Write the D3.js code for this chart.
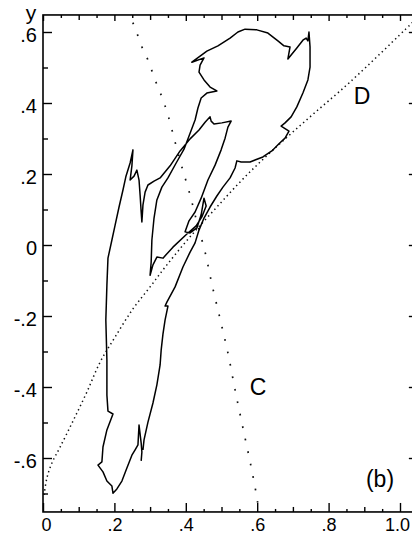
<!DOCTYPE html>
<html><head><meta charset="utf-8">
<script src="https://cdn.jsdelivr.net/npm/d3@7/dist/d3.min.js"></script>
<style>
html,body{margin:0;padding:0;background:#fff;}
svg{display:block;font-family:"Liberation Sans",Arial,Helvetica,sans-serif;}
</style>
</head><body>
<svg id="chart" width="412" height="535"></svg>
<script>
// ---- data ----
const xMajorTicks = [0, 0.2, 0.4, 0.6, 0.8, 1.0];
const xTickLabels = ["0", ".2", ".4", ".6", ".8", "1.0"];
const xMinorTicks = [0.1, 0.3, 0.5, 0.7, 0.9];
const xFineTicks = [0.05, 0.15, 0.25, 0.35, 0.45, 0.55, 0.65, 0.75, 0.85, 0.95];
const yMajorTicks = [-0.6, -0.4, -0.2, 0, 0.2, 0.4, 0.6];
const yTickLabels = ["-.6", "-.4", "-.2", "0", ".2", ".4", ".6"];
const yMinorTicks = [-0.7, -0.5, -0.3, -0.1, 0.1, 0.3, 0.5];

// dotted curve D (x, y)
const curveD = [[0.003,-0.704],[0.011,-0.656],[0.025,-0.614],[0.048,-0.569],[0.084,-0.496],
  [0.123,-0.414],[0.160,-0.330],[0.202,-0.259],[0.252,-0.180],[0.300,-0.118],[0.347,-0.056],
  [0.412,0.023],[0.487,0.107],[0.566,0.192],[0.650,0.273],[0.748,0.361],[0.860,0.459],[1.028,0.620],[1.040,0.632]];
// dotted curve C (x, y)
const curveC = [[0.240,0.660],[0.244,0.645],[0.258,0.611],[0.277,0.558],[0.294,0.521],[0.314,0.465],
  [0.333,0.417],[0.350,0.366],[0.370,0.290],[0.389,0.220],[0.412,0.141],[0.431,0.065],
  [0.454,-0.020],[0.473,-0.110],[0.496,-0.208],[0.518,-0.304],[0.538,-0.408],[0.560,-0.515],
  [0.583,-0.625],[0.597,-0.699],[0.605,-0.749],[0.607,-0.760]];

// solid trajectory (x, y)
const trajectory = [
  [0.275,-0.608],[0.277,-0.583],[0.275,-0.558],[0.269,-0.507],[0.266,-0.563],[0.258,-0.577],
  [0.249,-0.592],[0.235,-0.628],[0.221,-0.665],[0.207,-0.687],[0.196,-0.699],[0.193,-0.679],
  [0.179,-0.665],[0.168,-0.639],[0.154,-0.620],[0.165,-0.611],[0.168,-0.569],[0.179,-0.521],
  [0.196,-0.476],[0.182,-0.468],[0.179,-0.423],[0.179,-0.324],[0.176,-0.211],[0.179,-0.113],
  [0.182,-0.037],[0.193,0.014],[0.202,0.056],[0.213,0.107],[0.224,0.155],[0.232,0.192],
  [0.244,0.231],[0.252,0.268],[0.249,0.223],[0.244,0.183],[0.255,0.194],[0.263,0.211],
  [0.269,0.183],[0.272,0.141],[0.275,0.093],[0.277,0.065],[0.280,0.113],[0.286,0.149],
  [0.294,0.169],[0.311,0.180],[0.328,0.189],[0.356,0.223],[0.384,0.265],[0.412,0.299],
  [0.437,0.324],[0.454,0.346],[0.468,0.361],[0.471,0.349],[0.479,0.341],[0.501,0.344],
  [0.527,0.349],[0.518,0.332],[0.510,0.301],[0.499,0.268],[0.482,0.225],[0.462,0.183],
  [0.443,0.132],[0.426,0.093],[0.409,0.068],[0.398,0.037],[0.412,0.034],[0.431,0.048],
  [0.443,0.085],[0.451,0.132],[0.457,0.110],[0.445,0.079],[0.429,0.054],[0.403,0.031],
  [0.364,-0.006],[0.336,-0.037],[0.319,-0.034],[0.308,-0.056],[0.300,-0.085],[0.303,-0.048],
  [0.305,0.014],[0.311,0.076],[0.319,0.127],[0.333,0.163],[0.350,0.189],[0.373,0.231],
  [0.395,0.270],[0.412,0.315],[0.426,0.352],[0.434,0.386],[0.443,0.414],[0.459,0.428],
  [0.487,0.434],[0.468,0.445],[0.451,0.465],[0.437,0.487],[0.440,0.507],[0.451,0.527],
  [0.417,0.515],[0.440,0.532],[0.459,0.546],[0.490,0.561],[0.524,0.583],[0.546,0.600],
  [0.566,0.608],[0.599,0.606],[0.630,0.597],[0.658,0.575],[0.675,0.561],[0.692,0.558],
  [0.686,0.524],[0.711,0.555],[0.728,0.577],[0.737,0.583],[0.742,0.575],[0.745,0.600],
  [0.748,0.558],[0.748,0.501],[0.742,0.465],[0.728,0.428],[0.711,0.389],[0.695,0.361],
  [0.678,0.344],[0.667,0.335],[0.689,0.321],[0.678,0.301],[0.661,0.285],[0.641,0.265],
  [0.616,0.248],[0.580,0.234],[0.555,0.234],[0.543,0.237],[0.538,0.217],[0.524,0.189],
  [0.504,0.163],[0.487,0.138],[0.468,0.107],[0.451,0.076],[0.437,0.042],[0.426,0.006],
  [0.412,-0.020],[0.392,-0.062],[0.370,-0.118],[0.347,-0.161],[0.342,-0.172],[0.350,-0.172],
  [0.342,-0.211],[0.336,-0.251],[0.331,-0.296],[0.328,-0.338],[0.319,-0.394],[0.308,-0.445],
  [0.294,-0.499],[0.283,-0.549],[0.280,-0.577]
];

const xDomain = [0, 1.036];
const yDomain = [-0.752, 0.648];

// ---- drawing ----
const svg = d3.select("#chart");
const x = d3.scaleLinear().domain([0, 1]).range([43, 400]);
const y = d3.scaleLinear().domain([0, 0.6]).range([245, 32]);
const L = x(xDomain[0]), R = x(xDomain[1]), T = y(yDomain[1]), B = y(yDomain[0]);

svg.append("defs").append("clipPath").attr("id","plot")
  .append("rect").attr("x",L).attr("y",T).attr("width",R-L).attr("height",B-T);

function styleAxis(g, fs){
  g.select(".domain").remove();
  g.selectAll(".tick line").attr("stroke","#000").attr("stroke-width",1.4);
  g.selectAll(".tick text").attr("fill","#000").style("font-size",(fs||19)+"px");
}
// bottom axis
const gb = svg.append("g").attr("transform",`translate(0,${B})`)
  .call(d3.axisBottom(x).tickValues(xMajorTicks).tickSize(-9).tickPadding(6)
    .tickFormat((d,i)=>xTickLabels[i])).call(styleAxis, 18);
gb.selectAll(".tick text").attr("dx",(d,i)=> i===0 ? 3 : (i===xMajorTicks.length-1 ? -3 : 0));
svg.append("g").attr("transform",`translate(0,${B})`)
  .call(d3.axisBottom(x).tickValues(xMinorTicks).tickSize(-5).tickFormat("")).call(styleAxis);
svg.append("g").attr("transform",`translate(0,${B})`)
  .call(d3.axisBottom(x).tickValues(xFineTicks).tickSize(-3).tickFormat("")).call(styleAxis);
// top axis
svg.append("g").attr("transform",`translate(0,${T})`)
  .call(d3.axisTop(x).tickValues(xMajorTicks).tickSize(-6).tickFormat("")).call(styleAxis);
svg.append("g").attr("transform",`translate(0,${T})`)
  .call(d3.axisTop(x).tickValues(xMinorTicks).tickSize(-5).tickFormat("")).call(styleAxis);
svg.append("g").attr("transform",`translate(0,${T})`)
  .call(d3.axisTop(x).tickValues(xFineTicks).tickSize(-3).tickFormat("")).call(styleAxis);
// left axis
const gl = svg.append("g").attr("transform",`translate(${L},0)`)
  .call(d3.axisLeft(y).tickValues(yMajorTicks).tickSize(-9).tickPadding(6)
    .tickFormat((d,i)=>yTickLabels[i])).call(styleAxis, 20);
gl.selectAll(".tick text").attr("dy","0.45em");
svg.append("g").attr("transform",`translate(${L},0)`)
  .call(d3.axisLeft(y).tickValues(yMinorTicks).tickSize(-5).tickFormat("")).call(styleAxis);
// right axis
svg.append("g").attr("transform",`translate(${R},0)`)
  .call(d3.axisRight(y).tickValues(yMajorTicks).tickSize(-4).tickFormat("")).call(styleAxis);

// frame
svg.append("rect").attr("x",L).attr("y",T).attr("width",R-L).attr("height",B-T)
  .attr("fill","none").attr("stroke","#000").attr("stroke-width",1.6);

const plot = svg.append("g").attr("clip-path","url(#plot)");
const lineGen = d3.line().x(d=>x(d[0])).y(d=>y(d[1]));

plot.append("path")
  .attr("d", lineGen.curve(d3.curveCatmullRom)(curveD))
  .attr("fill","none").attr("stroke","#111").attr("stroke-width",1.5)
  .attr("stroke-dasharray","1.4,3.2");
plot.append("path")
  .attr("d", lineGen.curve(d3.curveCatmullRom)(curveC))
  .attr("fill","none").attr("stroke","#111").attr("stroke-width",1.7)
  .attr("stroke-dasharray","1.7,11");
plot.append("path")
  .attr("d", lineGen.curve(d3.curveLinear)(trajectory))
  .attr("fill","none").attr("stroke","#000").attr("stroke-width",1.5)
  .attr("stroke-linejoin","round");

// labels
svg.append("text").attr("x",31).attr("y",20).attr("text-anchor","middle")
  .style("font-size","21px").text("y");
svg.append("text").attr("x",362).attr("y",104).attr("text-anchor","middle")
  .style("font-size","23px").text("D");
svg.append("text").attr("x",258).attr("y",395).attr("text-anchor","middle")
  .style("font-size","23px").text("C");
svg.append("text").attr("x",380).attr("y",487).attr("text-anchor","middle")
  .style("font-size","23px").text("(b)");
</script>
</body></html>
